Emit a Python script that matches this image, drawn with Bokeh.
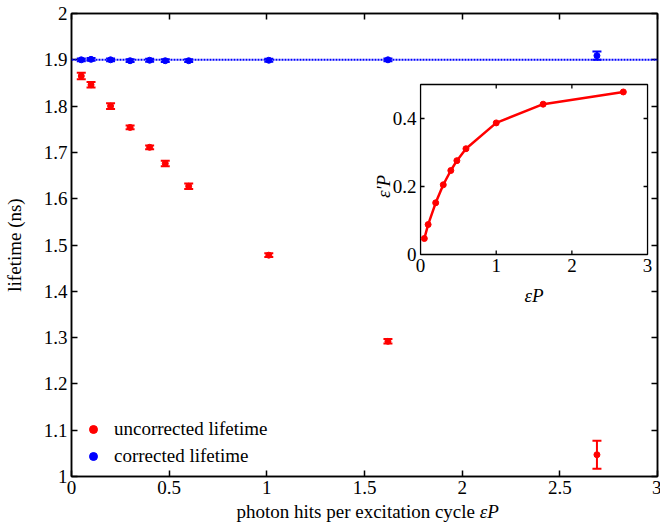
from bokeh.plotting import figure
from bokeh.models import (Whisker, TeeHead, Span, Legend, LegendItem, LinearAxis,
                          ColumnDataSource, FixedTicker, CustomJSTickFormatter, Range1d)
from bokeh.layouts import column
from bokeh.core.properties import value
from bokeh.embed import file_html
from bokeh.resources import INLINE

# ---------------- data ----------------
ep = [0.05, 0.1, 0.2, 0.3, 0.4, 0.48, 0.6, 1.01, 1.62, 2.69]
tau_uncorr = [1.865, 1.846, 1.800, 1.754, 1.711, 1.676, 1.627, 1.478, 1.292, 1.047]
tau_uncorr_err = [0.007, 0.006, 0.006, 0.004, 0.004, 0.006, 0.006, 0.004, 0.005, 0.030]
tau_corr = [1.900, 1.901, 1.900, 1.898, 1.899, 1.898, 1.898, 1.899, 1.900, 1.909]
tau_corr_err = [0.003, 0.003, 0.003, 0.003, 0.003, 0.003, 0.003, 0.003, 0.003, 0.009]
tau_true = 1.9

inset_ep = [0.05, 0.1, 0.2, 0.3, 0.4, 0.48, 0.6, 1.0, 1.62, 2.68]
inset_eps_p = [0.047, 0.088, 0.152, 0.205, 0.247, 0.276, 0.311, 0.387, 0.442, 0.478]

main_xticks = [0, 0.5, 1, 1.5, 2, 2.5, 3]
main_yticks = [1, 1.1, 1.2, 1.3, 1.4, 1.5, 1.6, 1.7, 1.8, 1.9, 2]
inset_xticks = [0, 1, 2, 3]
inset_yticks = [0, 0.2, 0.4]
inset_xlim = (0, 3)
inset_ylim = (0, 0.5)

xlabel_main = "photon hits per excitation cycle "
xlabel_symbol = "εP"

FONT = "Liberation Serif"
FS = "19px"
RED = "#ff0000"
BLUE = "#0000ff"
fmt = CustomJSTickFormatter(code="return String(+tick.toFixed(3));")
blank = CustomJSTickFormatter(code="return '';")

LEFT, RIGHT, FW = 69, 4, 586


def tick_label(t):
    return f"{t:g}"


def style_axis(ax, ticks, labels=True, tick_len=6, lw=1.5):
    ax.ticker = FixedTicker(ticks=ticks)
    ax.formatter = fmt if labels else blank
    ax.major_tick_in = tick_len
    ax.major_tick_out = 0
    ax.minor_tick_in = 0
    ax.minor_tick_out = 0
    ax.axis_line_width = lw
    ax.major_tick_line_width = lw
    ax.axis_line_color = "black"
    ax.major_tick_line_color = "black"
    ax.major_label_text_font = FONT
    ax.major_label_text_color = "black"
    ax.major_label_text_font_size = FS
    ax.major_label_standoff = 4 if labels else 0
    ax.axis_label_text_font = FONT
    ax.axis_label_text_font_size = FS
    ax.axis_label_text_font_style = "normal"
    ax.axis_label_text_color = "black"


# ---------------- main figure ----------------
p = figure(frame_width=FW, frame_height=463, x_range=(0, 3), y_range=(1, 2),
           output_backend="svg", toolbar_location=None,
           min_border_left=LEFT, min_border_right=RIGHT, min_border_top=13,
           min_border_bottom=25, x_axis_location=None, y_axis_location=None)
p.grid.visible = False
p.outline_line_color = "black"
p.outline_line_width = 1.5
p.background_fill_color = "white"

ax_left = LinearAxis(axis_label="lifetime (ns)")
style_axis(ax_left, main_yticks)
ax_left.axis_label_standoff = 16
p.add_layout(ax_left, "left")
ax_bottom = LinearAxis()
style_axis(ax_bottom, main_xticks)
p.add_layout(ax_bottom, "below")
ax_right = LinearAxis()
style_axis(ax_right, main_yticks, labels=False)
p.add_layout(ax_right, "right")
ax_top = LinearAxis()
style_axis(ax_top, main_xticks, labels=False)
p.add_layout(ax_top, "above")

p.add_layout(Span(location=tau_true, dimension="width", line_color=BLUE,
                  line_width=2, line_dash="2 1"))

src_u = ColumnDataSource(dict(x=ep, y=tau_uncorr,
                              lo=[v - e for v, e in zip(tau_uncorr, tau_uncorr_err)],
                              hi=[v + e for v, e in zip(tau_uncorr, tau_uncorr_err)]))
src_c = ColumnDataSource(dict(x=ep, y=tau_corr,
                              lo=[v - e for v, e in zip(tau_corr, tau_corr_err)],
                              hi=[v + e for v, e in zip(tau_corr, tau_corr_err)]))

for src, col in ((src_u, RED), (src_c, BLUE)):
    w = Whisker(source=src, base="x", lower="lo", upper="hi", line_color=col, line_width=2,
                upper_head=TeeHead(size=9, line_color=col, line_width=2),
                lower_head=TeeHead(size=9, line_color=col, line_width=2))
    p.add_layout(w)

r_u = p.scatter("x", "y", source=src_u, marker="circle", size=6, color=RED)
r_c = p.scatter("x", "y", source=src_c, marker="circle", size=6, color=BLUE)

legend = Legend(items=[LegendItem(label="uncorrected lifetime", renderers=[r_u]),
                       LegendItem(label="corrected lifetime", renderers=[r_c])],
                location=(12, 9), margin=0, padding=0, spacing=5,
                glyph_width=20, glyph_height=20, label_height=20, label_standoff=11,
                label_text_font=FONT, label_text_font_size=FS, label_text_color="black",
                background_fill_alpha=0, border_line_alpha=0)
p.add_layout(legend)

# ---------------- inset (sub-coordinates inside the main frame) ----------------
inset_x_target = (1.787, 2.949)
inset_y_target = (1.4795, 1.8467)
inset_ylabel_at = 0.2
xy = p.subplot(x_source=Range1d(*inset_xlim), y_source=Range1d(*inset_ylim),
               x_target=Range1d(*inset_x_target), y_target=Range1d(*inset_y_target))

xy.quad(left=[inset_xlim[0]], right=[inset_xlim[1]], bottom=[inset_ylim[0]],
        top=[inset_ylim[1]], fill_color="white", line_color="black", line_width=1.3)

tx = 4 * (inset_xlim[1] - inset_xlim[0]) / 228
ty = 4 * (inset_ylim[1] - inset_ylim[0]) / 170
inner_x = inset_xticks[1:-1]
inner_y = inset_yticks[1:]
xy.segment(x0=inner_x + inner_x, x1=inner_x + inner_x,
           y0=[inset_ylim[0]] * len(inner_x) + [inset_ylim[1]] * len(inner_x),
           y1=[inset_ylim[0] + ty] * len(inner_x) + [inset_ylim[1] - ty] * len(inner_x),
           line_color="black", line_width=1.3)
xy.segment(x0=[inset_xlim[0]] * len(inner_y) + [inset_xlim[1]] * len(inner_y),
           x1=[inset_xlim[0] + tx] * len(inner_y) + [inset_xlim[1] - tx] * len(inner_y),
           y0=inner_y + inner_y, y1=inner_y + inner_y,
           line_color="black", line_width=1.3)

xy.text(x=inset_xticks, y=[inset_ylim[0]] * len(inset_xticks),
        text=[tick_label(t) for t in inset_xticks], y_offset=11,
        text_align="center", text_baseline="middle",
        text_font=value(FONT), text_font_size=FS, text_color="black")
xy.text(x=[inset_xlim[0]] * len(inset_yticks), y=inset_yticks,
        text=[tick_label(t) for t in inset_yticks], x_offset=-4,
        text_align="right", text_baseline="middle",
        text_font=value(FONT), text_font_size=FS, text_color="black")

xy.text(x=[(inset_xlim[0] + inset_xlim[1]) / 2], y=[inset_ylim[0]], text=["εP"],
        y_offset=41, text_align="center", text_baseline="middle",
        text_font=value(FONT), text_font_size=FS, text_font_style="italic",
        text_color="black")
xy.text(x=[inset_xlim[0]], y=[inset_ylabel_at], text=["ε'P"],
        x_offset=-37, angle=1.5708, text_align="center", text_baseline="middle",
        text_font=value(FONT), text_font_size=FS, text_font_style="italic",
        text_color="black")

xy.line(inset_ep, inset_eps_p, line_color=RED, line_width=2.5)
xy.scatter(inset_ep, inset_eps_p, marker="circle", size=6, color=RED)

# ---------------- x-axis title strip (mixed upright / italic text) ----------------
lab = figure(frame_width=FW, frame_height=27, x_range=(0, 3), y_range=(0, 1),
             output_backend="svg", toolbar_location=None,
             min_border_left=LEFT, min_border_right=RIGHT, min_border_top=0,
             min_border_bottom=0, x_axis_location=None, y_axis_location=None)
lab.grid.visible = False
lab.outline_line_color = None
xlabel_join = 2.09
lab.text(x=[xlabel_join], y=[0.63], text=[xlabel_main], text_align="right",
         text_baseline="middle", text_font=value(FONT), text_font_size=FS,
         text_color="black")
lab.text(x=[xlabel_join], y=[0.63], text=[xlabel_symbol], text_align="left",
         text_baseline="middle", text_font=value(FONT), text_font_size=FS,
         text_font_style="italic", text_color="black")

layout = column(p, lab, spacing=0)
open("out.html", "w").write(file_html(layout, INLINE))
